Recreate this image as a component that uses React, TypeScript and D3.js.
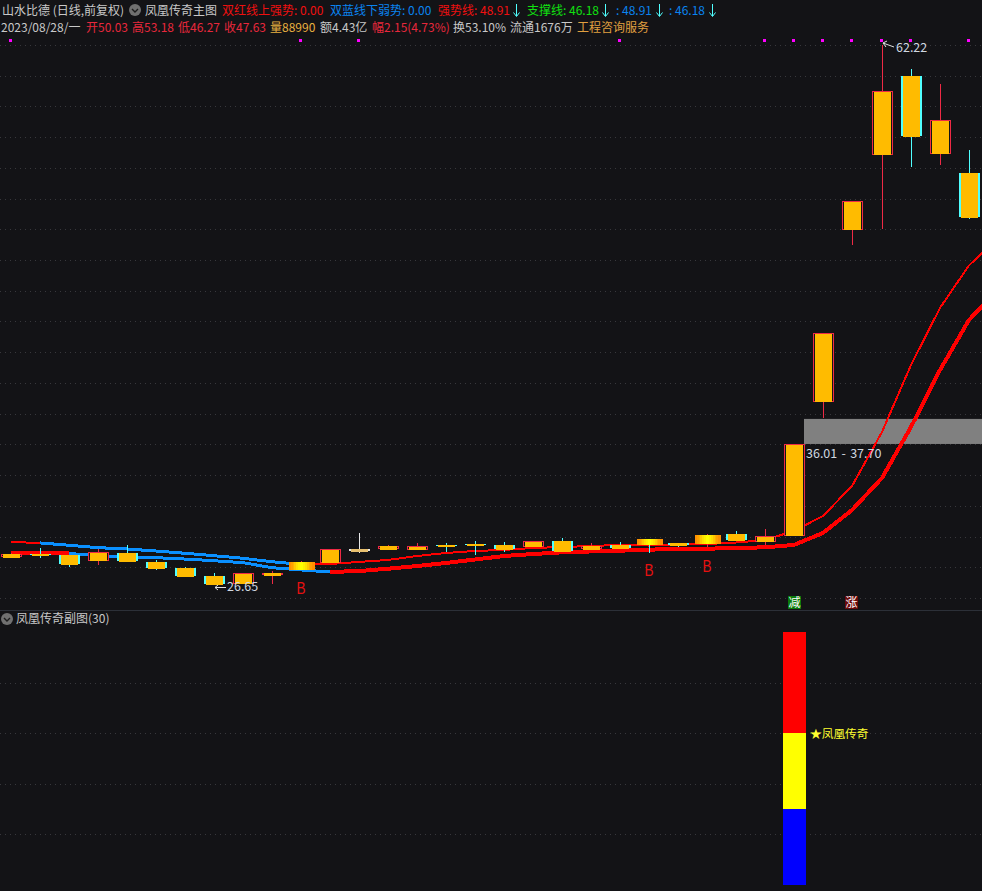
import React from "react";
import * as d3 from "d3";

const W = 982;
const H = 891;
const BG = "#131316";
const CJK = "'Noto Sans CJK SC','Noto Sans',sans-serif";

// candle values
const opens = [28.51,28.71,28.63,28.23,28.76,28.17,27.77,27.24,26.72,27.33,27.64,28.10,28.96,29.02,28.96,29.29,29.36,29.29,29.15,29.55,29.02,29.29,29.68,29.42,29.35,30.01,29.50,29.90,38.71,50.04,54.98,60.18,55.04,53.79];
const highs = [28.76,29.09,28.63,29.02,29.29,28.30,27.84,27.46,27.44,27.59,28.25,29.00,30.07,29.29,29.42,29.42,29.55,29.49,29.55,29.75,29.42,29.49,29.68,29.42,30.01,30.21,30.34,35.94,43.25,51.95,62.22,60.64,59.66,55.31];
const lows = [28.43,28.43,27.84,27.97,28.15,27.64,27.18,26.65,26.72,26.74,27.64,28.10,28.76,28.96,28.96,28.83,28.63,28.83,29.15,28.82,29.02,29.04,28.76,29.15,29.17,29.55,29.27,29.90,37.65,49.05,50.10,54.19,54.32,50.76];
const closes = [28.69,28.58,27.97,28.82,28.15,27.70,27.18,26.65,27.44,27.46,28.17,29.00,29.02,29.22,29.22,29.22,29.29,28.98,29.55,28.82,29.22,29.04,29.29,29.22,29.94,29.55,29.88,35.94,43.25,51.95,59.19,56.16,57.28,50.83];
const flashCandles = [10, 22, 24];
const flashColors = ["#ff9000","#ffa000","#ffb000","#ffc800","#ffe000","#fff000","#ffff00","#ffff00","#fff000","#ffe000","#ffc800","#ffb000","#ffa000","#ff9000"];
const dojiWhite = [12];

// two moving lines (index 34 lies just beyond the right edge)
const upperLine = [29.48,29.42,29.27,29.11,29.02,28.89,28.74,28.58,28.41,28.18,28.01,28.03,28.17,28.30,28.56,28.76,28.89,28.96,29.09,29.15,29.22,29.29,29.25,29.32,29.35,29.45,29.61,30.21,31.20,33.17,36.73,41.14,44.90,47.70,49.51];
const lowerLine = [28.73,28.73,28.73,28.58,28.51,28.45,28.36,28.25,28.12,27.79,27.64,27.51,27.57,27.72,27.90,28.10,28.33,28.56,28.69,28.80,28.86,28.91,28.98,29.02,29.04,29.09,29.13,29.29,30.08,31.59,33.70,37.06,40.81,44.11,46.08];
const upperBlueRange = [1, 10];
const lowerBlueRange = [2, 11];

const zoneLow = 35.94;
const zoneHigh = 37.59;
const markerCandles = [0, 10, 12, 21, 26, 27, 28, 29, 30, 31, 33];
const buyCandles = [10, 22, 24];
const buyLevels = [26.06, 27.24, 27.51];
const subSegments = [
  { from: 0, to: 30, color: "#0000ff" },
  { from: 30, to: 60, color: "#ffff00" },
  { from: 60, to: 100, color: "#ff0000" },
];
const subGridValues = [20, 40, 60, 80];
const subBarCandle = 27;

const headerRow1 = [
  { x: 2, t: "山水比德 (日线,前复权)", c: "#c8c8c8" },
  { x: 145, t: "凤凰传奇主图", c: "#c8c8c8" },
  { x: 222, t: "双红线上强势: 0.00", c: "#f01010" },
  { x: 330, t: "双蓝线下弱势: 0.00", c: "#0a84f0" },
  { x: 438, t: "强势线: 48.91", c: "#f01010" },
  { x: 527, t: "支撑线: 46.18", c: "#10e010" },
  { x: 616, t: ": 48.91", c: "#0a84f0" },
  { x: 669, t: ": 46.18", c: "#0a84f0" },
];
const headerArrows = [516, 605, 659, 712];
const headerRow2 = [
  { x: 1, t: "2023/08/28/一", c: "#c8c8c8" },
  { x: 86, t: "开50.03", c: "#e8283c" },
  { x: 132, t: "高53.18", c: "#e8283c" },
  { x: 178, t: "低46.27", c: "#e8283c" },
  { x: 224, t: "收47.63", c: "#e8283c" },
  { x: 270, t: "量88990", c: "#e8b040" },
  { x: 320, t: "额4.43亿", c: "#c8c8c8" },
  { x: 372, t: "幅2.15(4.73%)", c: "#e8283c" },
  { x: 453, t: "换53.10%", c: "#c8c8c8" },
  { x: 510, t: "流通1676万", c: "#c8c8c8" },
  { x: 577, t: "工程咨询服务", c: "#e0a040" },
];

const ORANGE = "#ffbb00";
const RED = "#ee2a45";
const CYAN = "#50ffff";

const x = d3.scaleLinear().domain([0, 29, 30, 33]).range([11, 852, 882, 969]);
const y = d3.scaleLinear().domain([26.65, 62.22]).range([585, 45]);
const ySub = d3.scaleLinear().domain([0, 100]).range([885, 632]);
const gridRows = d3.range(0, 19).map((k) => 45 + k * 30.72);

function segment(values: number[], from: number, to: number) {
  return values.map((v, i) => ({ v, i })).filter((p) => p.i >= from && p.i <= to);
}
const segPath = (values: number[], from: number, to: number) =>
  d3
    .line<{ v: number; i: number }>()
    .x((p) => x(p.i))
    .y((p) => y(p.v))(segment(values, from, to)) || "";

function Icon({ cx, cy }: { cx: number; cy: number }) {
  return (
    <g>
      <circle cx={cx} cy={cy} r={6} fill="#707070" />
      <path d={`M${cx - 3} ${cy - 1}L${cx} ${cy + 2}L${cx + 3} ${cy - 1}`} fill="none" stroke="#1c1c1c" strokeWidth={1.4} />
    </g>
  );
}

function Candle({ i }: { i: number }) {
  const cx = Math.round(x(i));
  const o = opens[i];
  const c = closes[i];
  const up = c >= o;
  const white = dojiWhite.includes(i);
  const flash = flashCandles.includes(i);
  const color = white ? "#e8e8e8" : up ? RED : CYAN;
  const top = Math.round(y(Math.max(o, c)));
  const bottom = Math.round(y(Math.min(o, c)));
  const h = Math.max(bottom - top, 2);
  return (
    <g shapeRendering="crispEdges">
      <line x1={cx + 0.5} x2={cx + 0.5} y1={y(highs[i])} y2={y(lows[i])} stroke={color} strokeWidth={1} />
      {flash ? (
        <g>
          {flashColors.map((col, k) => (
            <rect key={k} x={cx - 12 + (k * 25) / flashColors.length} y={top} width={25 / flashColors.length + 0.5} height={h} fill={col} />
          ))}
        </g>
      ) : up ? (
        <g>
          <rect x={cx - 9.5} y={top + 0.5} width={20} height={Math.max(h - 1, 1)} fill={BG} stroke={color} strokeWidth={1} />
          <rect x={cx - 8} y={h > 3 ? top + 1 : top} width={17} height={h > 3 ? h - 1 : h + 1} fill={white ? "#e8c070" : ORANGE} />
        </g>
      ) : (
        <g>
          <rect x={cx - 10} y={top} width={21} height={Math.max(h - 1, 1)} fill={color} />
          <rect x={cx - 8} y={top} width={17} height={h} fill={ORANGE} />
        </g>
      )}
    </g>
  );
}

export default function App() {
  const zoneTop = y(zoneHigh);
  const zoneBottom = y(zoneLow);
  const zoneX = Math.round(x(27)) + 10;
  const subX = Math.round(x(subBarCandle));
  return (
    <svg
      width={W}
      height={H}
      viewBox={`0 0 ${W} ${H}`}
      style={{ position: "absolute", left: 0, top: 0, display: "block", background: BG }}
      fontFamily={CJK}
    >
      {gridRows.map((gy) => (
        <line key={gy} x1={0} x2={W} y1={Math.round(gy) + 0.5} y2={Math.round(gy) + 0.5} stroke="#38383c" strokeDasharray="1 4" />
      ))}
      {subGridValues.map((v) => (
        <line key={v} x1={0} x2={W} y1={Math.round(ySub(v)) + 0.5} y2={Math.round(ySub(v)) + 0.5} stroke="#38383c" strokeDasharray="1 4" />
      ))}

      <rect x={zoneX} y={zoneTop} width={W - zoneX} height={zoneBottom - zoneTop} fill="#808080" />

      {/* lines */}
      <g fill="none" shapeRendering="crispEdges">
        <path d={segPath(upperLine, 0, upperBlueRange[0])} stroke="#ff0000" strokeWidth={2} />
        <path d={segPath(upperLine, upperBlueRange[1], 34)} stroke="#ff0000" strokeWidth={2} />
        <path d={segPath(lowerLine, 0, lowerBlueRange[0])} stroke="#ff0000" strokeWidth={4} />
        <path d={segPath(lowerLine, lowerBlueRange[1], 34)} stroke="#ff0000" strokeWidth={4} />
        <path d={segPath(upperLine, upperBlueRange[0], upperBlueRange[1])} stroke="#0a90ff" strokeWidth={3} />
        <path d={segPath(lowerLine, lowerBlueRange[0], lowerBlueRange[1])} stroke="#0a90ff" strokeWidth={3} />
      </g>

      {opens.map((_, i) => (
        <Candle key={i} i={i} />
      ))}

      {/* markers */}
      {markerCandles.map((i) => (
        <rect key={i} x={Math.round(x(i)) - 2} y={39} width={3} height={3} fill="#ff00ff" shapeRendering="crispEdges" />
      ))}
      {buyCandles.map((i, k) => (
        <text key={i} transform={`translate(${x(i)},${y(buyLevels[k])}) scale(0.8,1)`} fontSize={17} fill="#e81010" textAnchor="middle" fontFamily="'Liberation Sans','Roboto',sans-serif">
          B
        </text>
      ))}

      {/* header */}
      <g fontSize={12} dominantBaseline="middle">
        {headerRow1.map((r) => (
          <text key={r.x} x={r.x} y={11.5} fill={r.c}>{r.t}</text>
        ))}
        {headerRow2.map((r) => (
          <text key={r.x} x={r.x} y={28.5} fill={r.c}>{r.t}</text>
        ))}
      </g>
      <g fill="none" stroke={CYAN} strokeWidth={1}>
        {headerArrows.map((ax) => (
          <path key={ax} d={`M${ax + 0.5} 4V16M${ax - 2.5} 12.5L${ax + 0.5} 16.5L${ax + 3.5} 12.5`} />
        ))}
      </g>
      <Icon cx={135} cy={10} />

      {/* price labels */}
      <g fontSize={12.5} fill="#d0d8e0" dominantBaseline="middle">
        <text x={896} y={49}>62.22</text>
        <text x={806} y={455} wordSpacing={1.5}>36.01 - 37.70</text>
        <text x={227} y={588}>26.65</text>
      </g>
      <g fill="none" stroke="#e0e0e0" strokeWidth={1}>
        <path d="M894 47L883 43M883 43L887 41M883 43L886 47" />
        <path d="M226 587.5H215M215 587.5L218 585M215 587.5L218 590" />
      </g>

      {/* signal tags */}
      <g shapeRendering="crispEdges">
        <rect x={788} y={596} width={13} height={13} fill="#0a7a0a" />
        <rect x={845} y={596} width={13} height={13} fill="#6a0a0a" />
      </g>
      <text x={794.5} y={604} fontSize={12} fill="#ffffff" textAnchor="middle" dominantBaseline="middle">减</text>
      <text x={851.5} y={604} fontSize={12} fill="#ffffff" textAnchor="middle" dominantBaseline="middle">涨</text>

      {/* sub pane */}
      <rect x={0} y={610} width={W} height={1} fill="#2c3038" shapeRendering="crispEdges" />
      <Icon cx={7} cy={619} />
      <text x={16} y={620} fontSize={12} fill="#c8c8c8" dominantBaseline="middle">凤凰传奇副图(30)</text>
      {subSegments.map((s) => (
        <rect
          key={s.color}
          x={subX - 11}
          y={ySub(s.to)}
          width={23}
          height={ySub(s.from) - ySub(s.to)}
          fill={s.color}
          shapeRendering="crispEdges"
        />
      ))}
      <text x={810} y={734.5} fontSize={11.7} fill="#ffff30" dominantBaseline="middle">★凤凰传奇</text>
    </svg>
  );
}
